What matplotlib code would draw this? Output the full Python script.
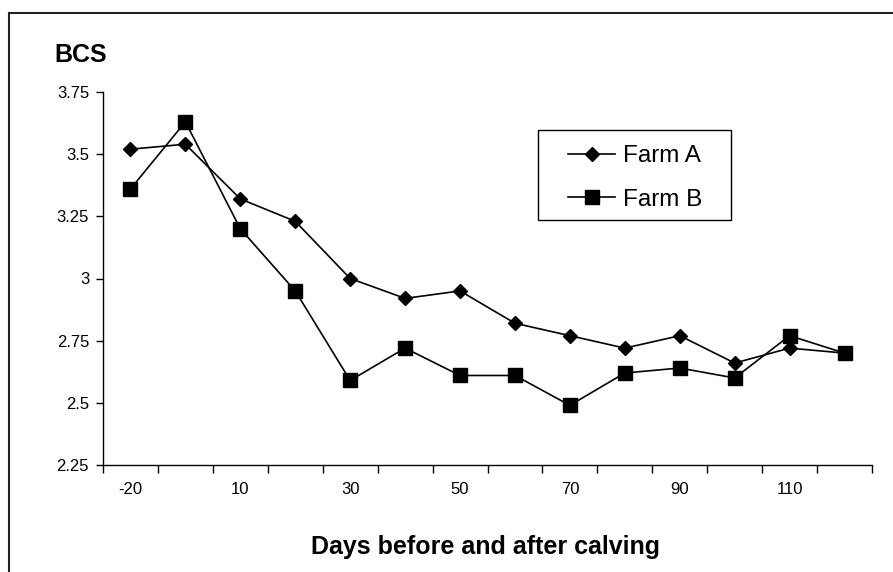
import matplotlib.pyplot as plt
from matplotlib.lines import Line2D
from matplotlib.patches import Rectangle

plt.rcParams['font.family'] = ['Liberation Sans', 'DejaVu Sans']

# days before / after calving (category axis)
days = [-20, 0, 10, 20, 30, 40, 50, 60, 70, 80, 90, 100, 110, 120]
farm_a = [3.52, 3.54, 3.32, 3.23, 3.00, 2.92, 2.95, 2.82, 2.77, 2.72, 2.77, 2.66, 2.72, 2.70]
farm_b = [3.36, 3.63, 3.20, 2.95, 2.59, 2.72, 2.61, 2.61, 2.49, 2.62, 2.64, 2.60, 2.77, 2.70]
y_ticks = [2.25, 2.5, 2.75, 3.0, 3.25, 3.5, 3.75]
y_labels = ['2.25', '2.5', '2.75', '3', '3.25', '3.5', '3.75']

W, H = 893, 572
fig = plt.figure(figsize=(W / 100, H / 100), dpi=100)

# outer chart border (cut off at right / bottom in the reference)
fig.add_artist(Line2D([9 / W, 9 / W], [1 - 13 / H, 0], transform=fig.transFigure,
                      color='#222222', lw=1.5))
fig.add_artist(Line2D([9 / W, 1], [1 - 13 / H, 1 - 13 / H], transform=fig.transFigure,
                      color='#222222', lw=1.5))

ax = fig.add_axes([103 / W, 1 - 465 / H, (872 - 103) / W, (465 - 92) / H])
x = list(range(len(days)))
ax.plot(x, farm_a, color='black', lw=1.2, marker='D', ms=7.5, label='Farm A')
ax.plot(x, farm_b, color='black', lw=1.2, marker='s', ms=9.5, label='Farm B')

ax.set_xlim(-0.5, len(days) - 0.5)
ax.set_ylim(2.25, 3.75)
ax.set_yticks(y_ticks)
ax.set_yticklabels(y_labels)

# category boundaries as major ticks, every other label as minor ticks
ax.set_xticks([i - 0.5 for i in range(len(days) + 1)])
ax.set_xticklabels([])
ax.set_xticks(x[::2], minor=True)
ax.set_xticklabels([str(d) for d in days[::2]], minor=True)
ax.tick_params(axis='x', which='major', direction='out', length=6, width=1)
ax.tick_params(axis='x', which='minor', length=0, pad=12, labelsize=12)
ax.tick_params(axis='y', direction='out', length=5, width=1, pad=5, labelsize=12)

for s in ['top', 'right']:
    ax.spines[s].set_visible(False)
for s in ['left', 'bottom']:
    ax.spines[s].set_linewidth(1)

fig.text(54 / W, 1 - 55 / H, 'BCS', fontsize=18, fontweight='bold', va='center', ha='left')
fig.text(486 / W, 1 - 547 / H, 'Days before and after calving', fontsize=18,
         fontweight='bold', va='center', ha='center')

# legend box drawn separately so its padding can match
fig.add_artist(Rectangle((538 / W, 1 - 220 / H), (731 - 538) / W, 90 / H,
                         transform=fig.transFigure, fill=True, facecolor='white',
                         edgecolor='black', lw=1, zorder=5))
leg = ax.legend(loc='upper left', bbox_to_anchor=(568 / W, 1 - 145 / H),
                bbox_transform=fig.transFigure, frameon=False, fontsize=17.5,
                handlelength=1.95, handletextpad=0.33, labelspacing=0.9,
                borderpad=0, borderaxespad=0)
leg.set_zorder(6)
leg.remove()
fig.add_artist(leg)

fig.savefig('out.png', dpi=100)
